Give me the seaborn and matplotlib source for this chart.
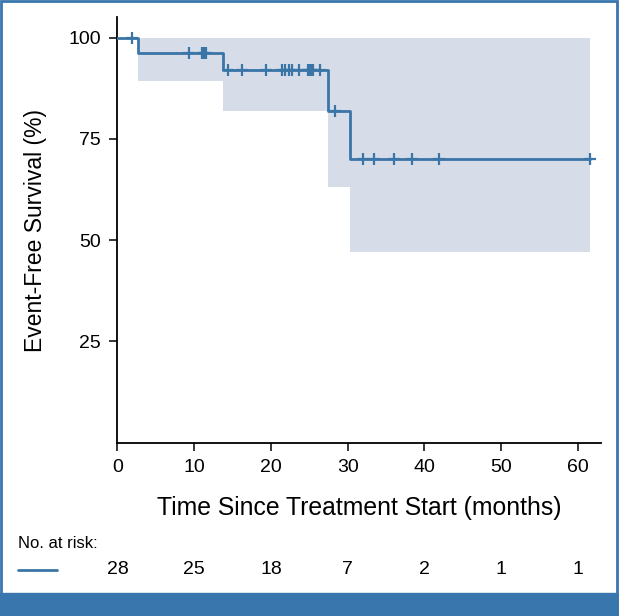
import numpy as np
import pandas as pd
import matplotlib
matplotlib.use("Agg")
import matplotlib.pyplot as plt
import seaborn as sns

# Kaplan-Meier steps
step_time = [0, 2.7, 13.7, 27.5, 30.25]
surv_pct = [100, 96.3, 91.9, 81.8, 70.0]
ci_lower = [100, 89.4, 81.8, 63.2, 47.0]
ci_upper = [100, 100, 100, 100, 100]
end_time = 61.6

# censored observations (+ marks)
censor_time = [1.84, 9.36, 10.98, 11.28, 11.55, 14.45, 16.28, 19.33, 21.4, 21.9,
               22.3, 22.7, 23.7, 24.8, 25.0, 25.25, 25.5, 26.4, 28.4, 32.0,
               33.4, 36.1, 38.4, 41.9, 61.6]

risk_times = [0, 10, 20, 30, 40, 50, 60]
at_risk = [28, 25, 18, 7, 2, 1, 1]

line_col = "#3a75a8"
band_col = "#d6dde8"
frame_col = "#3976ad"

sns.set_style("ticks")
plt.rcParams['font.family'] = ['Liberation Sans', 'DejaVu Sans']
plt.rcParams['text.color'] = 'black'
plt.rcParams['axes.labelcolor'] = 'black'

fig = plt.figure(figsize=(6.19, 6.16), dpi=100)
L, R, B, T = 0.1898, 0.9717, 0.2813, 0.9719
ax = fig.add_axes([L, B, R - L, T - B])

# step curve extended to last follow-up
t_full = step_time + [end_time]
s_full = surv_pct + [surv_pct[-1]]
lo_full = ci_lower + [ci_lower[-1]]
hi_full = ci_upper + [ci_upper[-1]]

ax.fill_between(t_full, lo_full, hi_full, step="post", color=band_col,
                linewidth=0, zorder=1)

km = pd.DataFrame({"time": t_full, "surv": s_full})
sns.lineplot(data=km, x="time", y="surv", drawstyle="steps-post",
             estimator=None, color=line_col, linewidth=2.0, ax=ax, zorder=3)

idx = np.searchsorted(step_time, censor_time, side="right") - 1
cens = pd.DataFrame({"time": censor_time, "surv": np.array(surv_pct)[idx]})
sns.scatterplot(data=cens, x="time", y="surv", marker="+", s=70,
                color=line_col, linewidth=1.6, ax=ax, zorder=4)

ax.set_xlim(0, 63.1)
ax.set_ylim(0, 105)
ax.set_xticks(risk_times)
ax.set_yticks([25, 50, 75, 100])
ax.tick_params(axis="both", length=6, width=1.1, labelsize=14, pad=6,
               color="black", labelcolor="black")
for side in ["left", "bottom"]:
    ax.spines[side].set_linewidth(1.3)
    ax.spines[side].set_color("black")
sns.despine(ax=ax)

ax.set_xlabel("Time Since Treatment Start (months)", fontsize=17.8, labelpad=14)
ax.set_ylabel("Event-Free Survival (%)", fontsize=16.5, labelpad=15)

# number at risk table
fig.text(18 / 619, 1 - 544 / 616, "No. at risk:", fontsize=12,
         ha="left", va="center")
fig.add_artist(plt.Line2D([17.5 / 619, 56.5 / 619], [1 - 570 / 616, 1 - 570 / 616],
                          color=line_col, linewidth=2.0))
x0, x1 = ax.get_xlim()
for t, n in zip(risk_times, at_risk):
    fx = L + (t - x0) / (x1 - x0) * (R - L)
    fig.text(fx, 1 - 570 / 616, str(n), fontsize=14, ha="center", va="center")

# blue frame and bottom band
fig.add_artist(plt.Rectangle((0, 0), 1, 23 / 616, transform=fig.transFigure,
                             color=frame_col, zorder=0))
fig.add_artist(plt.Rectangle((0.5 / 619, 0), 1 - 2.5 / 619, 1 - 1 / 616,
                             transform=fig.transFigure, fill=False,
                             edgecolor=frame_col, linewidth=2.0))

fig.savefig("out.png", dpi=100)
